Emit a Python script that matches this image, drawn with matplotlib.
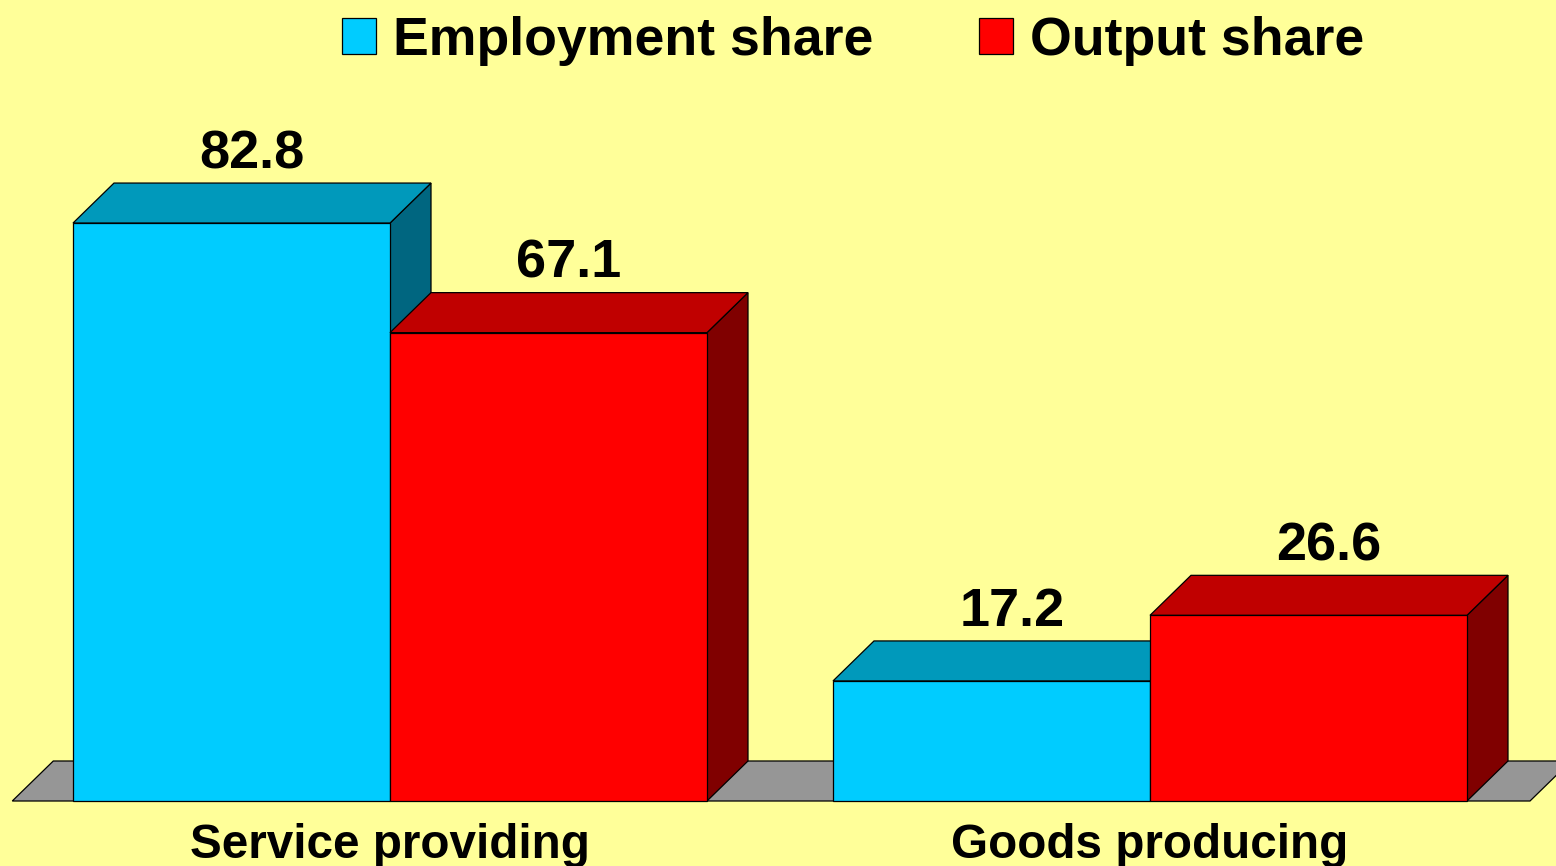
import matplotlib
matplotlib.use("Agg")
import matplotlib.pyplot as plt
from matplotlib.patches import Polygon, Patch

categories = ["Service providing", "Goods producing"]
series = ["Employment share", "Output share"]
employment = [82.8, 17.2]
output = [67.1, 26.6]
values = [employment, output]

face = ["#00CCFF", "#FF0000"]
top = ["#0099BB", "#C00000"]
side = ["#006680", "#800000"]
floor_col = "#969696"
bg = "#FFFF99"

W, H = 1556, 866
fig = plt.figure(figsize=(W / 100, H / 100), dpi=100, facecolor=bg)
ax = fig.add_axes([0, 0, 1, 1])
ax.set_facecolor(bg)
ax.axis("off")

# scales: category center px, px per category, px per unit
cx0, cstep = 390.0, 760.0
y0px, ppu = 801.0, 6.98
ax.set_xlim(-cx0 / cstep, (W - cx0) / cstep)
ax.set_ylim(-(H - y0px) / ppu, y0px / ppu)

ddx = 41 / cstep   # depth in data units
ddy = 40 / ppu
bw = 317 / cstep

plt.rcParams["font.family"] = ["Liberation Sans", "DejaVu Sans"]

lw = 0.9
# floor
fx0, fx1 = -0.497, 1.5
ax.add_patch(Polygon([(fx0, 0), (fx1, 0), (fx1 + ddx, ddy), (fx0 + ddx, ddy)],
                     closed=True, facecolor=floor_col, edgecolor="black", lw=lw, zorder=1))

for i, c in enumerate(range(len(categories))):
    for s in range(len(series)):
        v = values[s][i]
        x0 = c - bw + s * bw
        x1 = x0 + bw
        z = 2 + s
        # side
        ax.add_patch(Polygon([(x1, 0), (x1 + ddx, ddy), (x1 + ddx, v + ddy), (x1, v)],
                             closed=True, facecolor=side[s], edgecolor="black", lw=lw, zorder=z))
        # top
        ax.add_patch(Polygon([(x0, v), (x1, v), (x1 + ddx, v + ddy), (x0 + ddx, v + ddy)],
                             closed=True, facecolor=top[s], edgecolor="black", lw=lw, zorder=z))
        # front
        ax.add_patch(Polygon([(x0, 0), (x1, 0), (x1, v), (x0, v)],
                             closed=True, facecolor=face[s], edgecolor="black", lw=lw, zorder=z))
        ax.text((x0 + x1) / 2 + ddx / 2, v + ddy + 15 / ppu, f"{v:.1f}",
                ha="center", va="baseline", fontsize=39, fontweight="bold", zorder=10)
    ax.text(c, -57 / ppu, categories[i], ha="center", va="baseline",
            fontsize=34.3, fontweight="bold", zorder=10)

handles = [Patch(facecolor=face[s], edgecolor="black", lw=lw) for s in range(len(series))]
fig.legend(handles, series, loc="center", bbox_to_anchor=(853 / W, 1 - 41 / H),
           ncol=2, frameon=False, prop={"size": 38.6, "weight": "bold"},
           handlelength=0.63, handleheight=0.66, handletextpad=0.31, columnspacing=1.98)

fig.savefig("out.png", dpi=100, facecolor=bg)
